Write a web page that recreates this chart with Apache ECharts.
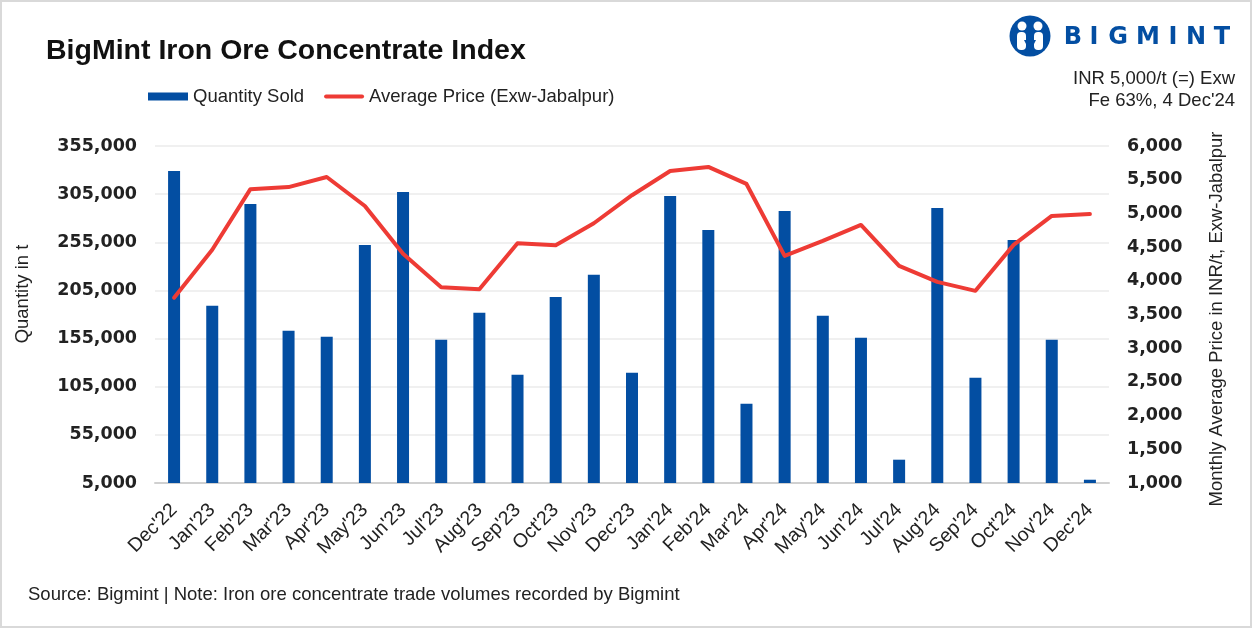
<!DOCTYPE html>
<html><head><meta charset="utf-8">
<script src="https://cdn.jsdelivr.net/npm/echarts@6/dist/echarts.min.js"></script>
<style>html,body{margin:0;padding:0;background:#fff}#c{width:1252px;height:628px}</style>
</head><body><div id="c"></div>
<script>
const categories = ["Dec'22","Jan'23","Feb'23","Mar'23","Apr'23","May'23","Jun'23","Jul'23","Aug'23","Sep'23","Oct'23","Nov'23","Dec'23","Jan'24","Feb'24","Mar'24","Apr'24","May'24","Jun'24","Jul'24","Aug'24","Sep'24","Oct'24","Nov'24","Dec'24"];
const quantitySold = [329000,189000,294800,163000,156800,252300,307300,153700,181700,117400,198300,221200,119500,303100,267800,87300,287600,178600,155800,29200,290700,114300,257500,153700,8400];
const averagePrice = [3750,4460,5360,5390,5540,5110,4400,3905,3876,4558,4528,4854,5270,5630,5690,5437,4370,4592,4829,4221,3984,3851,4533,4963,4990];
const qtyTicks = [5000,55000,105000,155000,205000,255000,305000,355000];
const priceTicks = [1000,1500,2000,2500,3000,3500,4000,4500,5000,5500,6000];

const FONT = "'Liberation Sans', Arial, sans-serif";
const NUMFONT = "'DejaVu Sans', sans-serif";
const BLUE = '#034EA2';
const RED = '#EE3B35';

const chart = echarts.init(document.getElementById('c'), null, {renderer: 'canvas'});
const logoLetters = ['B','I','G','M','I','N','T'];
const logoX = [1073,1094,1118,1148,1173,1196,1222];

const graphics = [
  {type:'rect', shape:{x:1,y:1,width:1250,height:626}, style:{fill:'none', stroke:'#d9d9d9', lineWidth:2}, silent:true},
  {type:'text', x:28, y:595, style:{text:'Source: Bigmint | Note: Iron ore concentrate trade volumes recorded by Bigmint', font:'18.5px ' + FONT, fill:'#222', align:'left', verticalAlign:'middle'}},
  {type:'text', x:1235, y:78.5, style:{text:'INR 5,000/t (=) Exw', font:'18.5px ' + FONT, fill:'#222', align:'right', verticalAlign:'middle'}},
  {type:'text', x:1235, y:100.5, style:{text:"Fe 63%, 4 Dec'24", font:'18.5px ' + FONT, fill:'#222', align:'right', verticalAlign:'middle'}},
  {type:'text', x:23, y:294, rotation:Math.PI/2, style:{text:'Quantity in t', font:'18.5px ' + FONT, fill:'#222', align:'center', verticalAlign:'middle'}},
  {type:'text', x:1217, y:319, rotation:Math.PI/2, style:{text:'Monthly Average Price in INR/t, Exw-Jabalpur', font:'18.5px ' + FONT, fill:'#222', align:'center', verticalAlign:'middle'}},
  {type:'circle', shape:{cx:1030, cy:36, r:20.5}, style:{fill:BLUE}},
  {type:'circle', shape:{cx:1022, cy:26, r:4.5}, style:{fill:'#fff'}},
  {type:'circle', shape:{cx:1038, cy:26, r:4.5}, style:{fill:'#fff'}},
  {type:'rect', shape:{x:1017, y:32, width:9, height:18, r:4}, style:{fill:'#fff'}},
  {type:'rect', shape:{x:1034, y:32, width:9, height:18, r:4}, style:{fill:'#fff'}},
  {type:'polygon', shape:{points:[[1024,40],[1030,52],[1036,40]]}, style:{fill:BLUE}}
];
logoLetters.forEach((l,i)=>{
  graphics.push({type:'text', x:logoX[i], y:38, style:{text:l, font:'bold 24px ' + NUMFONT, fill:BLUE, align:'center', verticalAlign:'middle'}});
});

chart.setOption({
  animation:false,
  backgroundColor:'#fff',
  title:{text:'BigMint Iron Ore Concentrate Index', left:46, top:37, padding:0, textStyle:{fontFamily:FONT, fontSize:28.5, fontWeight:'bold', color:'#111'}},
  legend:{left:148, top:87, padding:0, itemWidth:40, itemHeight:8, itemGap:20,
    textStyle:{fontFamily:FONT, fontSize:18.5, color:'#222'},
    data:[{name:'Quantity Sold', icon:'rect'},{name:'Average Price (Exw-Jabalpur)', icon:'path://M2,0L38,0A2,2 0 0 1 38,4L2,4A2,2 0 0 1 2,0Z'}]},
  grid:{left:155, right:143, top:146, bottom:145, containLabel:false},
  xAxis:{type:'category', data:categories,
    axisLine:{show:true, lineStyle:{color:'#d0d0d0', width:2}},
    axisTick:{show:false},
    axisLabel:{interval:0, rotate:45, margin:24, fontFamily:FONT, fontSize:19.5, color:'#222'}},
  yAxis:[
    {type:'value', min:qtyTicks[0], max:qtyTicks[qtyTicks.length-1], position:'left',
      axisLine:{show:false}, axisTick:{show:false}, splitLine:{show:false},
      axisLabel:{customValues:qtyTicks, margin:18, fontFamily:NUMFONT, fontWeight:'bold', fontSize:17.5, color:'#222',
        formatter:v=>v.toLocaleString('en-US')}},
    {type:'value', min:priceTicks[0], max:priceTicks[priceTicks.length-1], interval:500, position:'right',
      axisLine:{show:false}, axisTick:{show:false}, splitLine:{show:false},
      axisLabel:{margin:18, fontFamily:NUMFONT, fontWeight:'bold', fontSize:17.5, color:'#222',
        formatter:v=>v.toLocaleString('en-US')}},
    {type:'value', min:0, max:qtyTicks.length-1, interval:1, position:'left', show:true,
      axisLine:{show:false}, axisTick:{show:false}, axisLabel:{show:false},
      splitLine:{show:true, lineStyle:{color:'#ebebeb', width:1.5}}}
  ],
  series:[
    {name:'Quantity Sold', type:'bar', data:quantitySold, yAxisIndex:0, barWidth:12, itemStyle:{color:BLUE}, z:2},
    {name:'Average Price (Exw-Jabalpur)', type:'line', data:averagePrice, yAxisIndex:1, symbol:'none',
      lineStyle:{color:RED, width:4, cap:'round', join:'round'}, itemStyle:{color:RED}, z:3}
  ],
  graphic:graphics
});
</script>
</body></html>
